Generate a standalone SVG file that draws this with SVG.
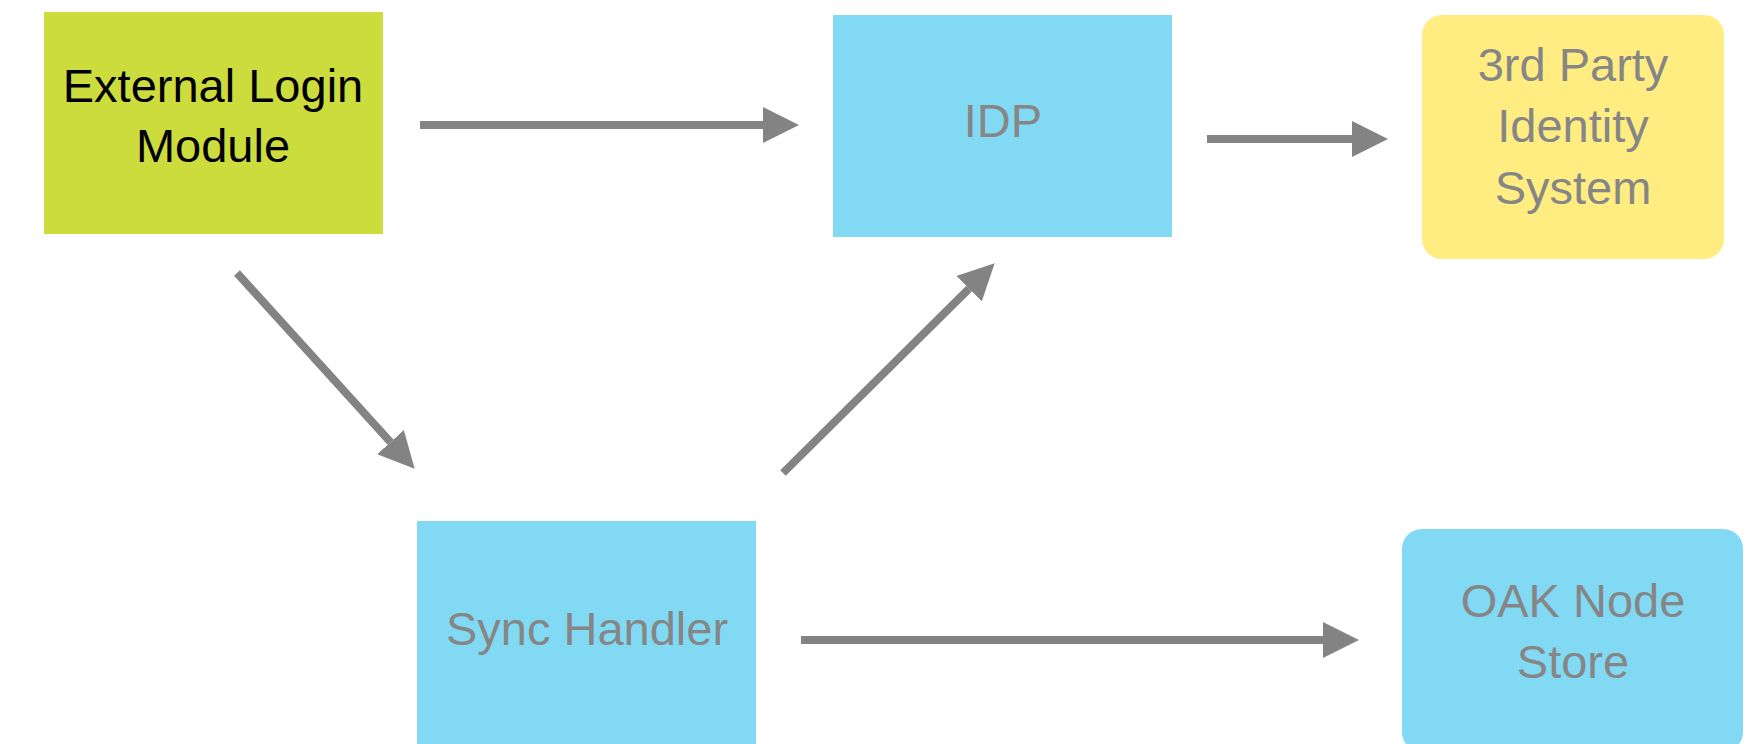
<svg xmlns="http://www.w3.org/2000/svg" width="1747" height="744" viewBox="0 0 1747 744">
<style>
.lbl{font-family:"Liberation Sans",Arial,sans-serif;font-size:47px;text-anchor:middle;fill:#868686}
.dark{fill:#000000}
.blue{fill:#82D9F3}
.conn{stroke:#838383;stroke-width:8;fill:none}
</style>
<defs>
<marker id="ah" markerUnits="userSpaceOnUse" markerWidth="36" markerHeight="36" refX="0" refY="17.5" orient="auto" viewBox="0 0 35 35">
<path d="M0,0 L35,17.5 L0,35 Z" fill="#838383"/>
</marker>
</defs>
<rect width="1747" height="744" fill="#ffffff"/>
<g id="connectors">
<line class="conn" x1="420" y1="125" x2="763" y2="125" marker-end="url(#ah)"/>
<line class="conn" x1="1207" y1="139" x2="1352" y2="139" marker-end="url(#ah)"/>
<line class="conn" x1="801" y1="640" x2="1323" y2="640" marker-end="url(#ah)"/>
<line class="conn" x1="237" y1="273" x2="390.5" y2="442.1" marker-end="url(#ah)"/>
<line class="conn" x1="783" y1="473" x2="969.1" y2="288.6" marker-end="url(#ah)"/>
</g>
<g id="external-login-module">
<rect x="44" y="12" width="339" height="222" fill="#CDDC3D"/>
<text class="lbl dark" x="213" y="102">External Login</text>
<text class="lbl dark" x="213" y="162">Module</text>
</g>
<g id="idp">
<rect class="blue" x="833" y="15" width="339" height="222"/>
<text class="lbl" x="1003" y="137">IDP</text>
</g>
<g id="third-party-identity-system">
<rect x="1422" y="15" width="302" height="244" rx="20" ry="20" fill="#FFED82"/>
<text class="lbl" x="1573" y="81">3rd Party</text>
<text class="lbl" x="1573" y="142">Identity</text>
<text class="lbl" x="1573" y="204">System</text>
</g>
<g id="sync-handler">
<rect class="blue" x="417" y="521" width="339" height="240"/>
<text class="lbl" x="587" y="645">Sync Handler</text>
</g>
<g id="oak-node-store">
<rect class="blue" x="1402" y="529" width="341" height="223" rx="20" ry="20"/>
<text class="lbl" x="1573" y="617">OAK Node</text>
<text class="lbl" x="1573" y="678">Store</text>
</g>
</svg>
